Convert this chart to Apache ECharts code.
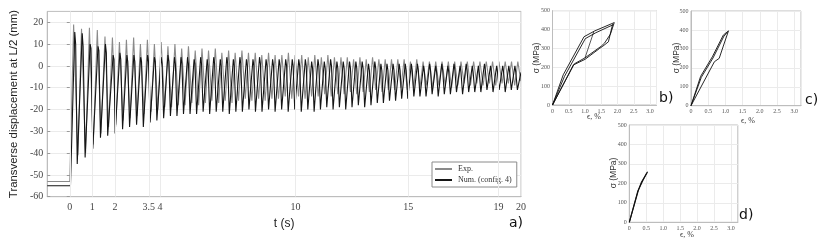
<!DOCTYPE html>
<html><head><meta charset="utf-8">
<script src="https://cdn.jsdelivr.net/npm/echarts@6/dist/echarts.min.js"></script>
<style>html,body{margin:0;padding:0;background:#fff}#c{width:826px;height:246px}</style>
</head><body><div id="c"></div>
<script>
// ---- main plot (a): tick labels ----
const tTicks = [0, 1, 2, 3.5, 4, 10, 15, 19, 20];
const yTicks = [-60, -50, -40, -30, -20, -10, 0, 10, 20];

// ---- Exp. series (gray): initial rest, then peaks / troughs ----
const expRestT = [-1, 0.0];
const expRestY = [-53, -53];
const expPeakT = [0.17,0.52,0.87,1.22,1.56,1.89,2.20,2.51,2.83,3.13,
  3.44,3.75,4.05,4.35,4.66,4.96,5.26,5.56,5.86,6.15,
  6.45,6.74,7.04,7.33,7.63,7.92,8.22,8.51,8.81,9.10,
  9.40,9.69,9.99,10.28,10.57,10.86,11.15,11.44,11.73,12.02,
  12.30,12.58,12.86,13.14,13.42,13.70,13.98,14.26,14.54,14.82,
  15.10,15.38,15.66,15.94,16.22,16.50,16.78,17.06,17.34,17.62,
  17.90,18.18,18.46,18.74,19.02,19.30,19.58,19.86];
const expPeakY = [19,17,17.5,16.5,13.5,13,11,12,13,10,
  12,10,11,9,10,8,9,7,8,7,
  8,6,7,6,7,6,6,5,6,5,
  5,6,5,5,4,5,4,5,4,4,
  4,3,4,3,4,3,3,3,3,3,
  2,3,2,2,2,2,2,2,2,2,
  2,2,2,2,2,2,2,2];
const expTroughT = [0.36,0.70,1.04,1.38,1.72,2.04,2.36,2.67,2.98,3.29,
  3.60,3.90,4.21,4.51,4.81,5.11,5.41,5.71,6.01,6.30,
  6.60,6.89,7.19,7.48,7.78,8.07,8.37,8.66,8.96,9.25,
  9.55,9.84,10.14,10.43,10.72,11.01,11.30,11.59,11.88,12.16,
  12.44,12.72,13.00,13.28,13.56,13.84,14.12,14.40,14.68,14.96,
  15.24,15.52,15.80,16.08,16.36,16.64,16.92,17.20,17.48,17.76,
  18.04,18.32,18.60,18.88,19.16,19.44,19.72,19.99];
const expTroughY = [-41,-40,-36,-31,-28,-27,-25,-24,-23,-22,
  -21,-20,-19,-19,-18,-18,-17,-18,-17,-16,
  -17,-16,-17,-16,-15,-16,-15,-16,-15,-15,
  -14,-15,-14,-15,-14,-14,-13,-14,-13,-13,
  -12,-13,-12,-12,-11,-12,-11,-11,-10,-11,
  -10,-10,-9,-10,-9,-9,-10,-9,-8,-9,
  -8,-9,-8,-9,-8,-8,-9,-7];

// ---- Num. (config. 4) series (black): peak, shoulder (notch), trough ----
const numRestT = [-1, 0.03];
const numRestY = [-55, -55];
const numPeakT = [0.22,0.55,0.90,1.25,1.58,1.92,2.22,2.53,2.84,3.14,
  3.45,3.75,4.05,4.35,4.64,4.93,5.22,5.51,5.80,6.09,
  6.38,6.67,6.96,7.25,7.54,7.83,8.12,8.41,8.70,8.99,
  9.28,9.57,9.86,10.15,10.44,10.72,11.00,11.28,11.56,11.84,
  12.12,12.40,12.68,12.96,13.24,13.52,13.79,14.06,14.33,14.60,
  14.87,15.14,15.41,15.68,15.95,16.22,16.49,16.76,17.03,17.30,
  17.57,17.84,18.11,18.38,18.65,18.92,19.19,19.46,19.73];
const numPeakY = [15.5,15,10,9,10,5,6,5,5,4,
  5,4,4,5,4,4,4,3,4,3,
  4,3,4,3,4,3,3,4,3,3,
  3,3,3,3,3,2,3,2,3,2,
  2,2,2,2,1,2,1,1,1,1,
  1,1,1,0,1,0,1,0,1,0,
  1,0,0,1,0,0,0,0,0];
const numShoulderT = [0.26,0.59,0.94,1.29,1.62,1.96,2.26,2.57,2.88,3.18,
  3.49,3.79,4.09,4.39,4.68,4.97,5.26,5.55,5.84,6.13,
  6.42,6.71,7.00,7.29,7.58,7.87,8.16,8.45,8.74,9.03,
  9.32,9.61,9.90,10.19,10.48,10.76,11.04,11.32,11.60,11.88,
  12.16,12.44,12.72,13.00,13.28,13.56,13.83,14.10,14.37,14.64,
  14.91,15.18,15.45,15.72,15.99,16.26,16.53,16.80,17.07,17.34,
  17.61,17.88,18.15,18.42,18.69,18.96,19.23,19.50,19.77];
const numShoulderY = [10,9,8,7,6,3,3,2,2,2,
  2,2,1,2,1,1,1,1,1,0,
  1,0,1,0,1,0,0,1,0,0,
  0,0,0,0,0,-1,0,-1,0,-1,
  -1,-1,-1,-1,-2,-1,-2,-2,-2,-2,
  -2,-2,-2,-3,-2,-3,-2,-3,-2,-3,
  -2,-3,-3,-2,-3,-3,-3,-3,-3];
const numTroughT = [0.33,0.68,1.02,1.36,1.68,2.01,2.34,2.65,2.96,3.26,
  3.56,3.86,4.16,4.46,4.75,5.04,5.33,5.62,5.91,6.20,
  6.49,6.78,7.07,7.36,7.65,7.94,8.23,8.52,8.81,9.10,
  9.39,9.68,9.97,10.26,10.55,10.83,11.11,11.39,11.67,11.95,
  12.23,12.51,12.79,13.07,13.35,13.63,13.90,14.17,14.44,14.71,
  14.98,15.25,15.52,15.79,16.06,16.33,16.60,16.87,17.14,17.41,
  17.68,17.95,18.22,18.49,18.76,19.03,19.30,19.57,19.84];
const numTroughY = [-45,-42,-38,-33,-32,-31,-29,-28,-27,-28,
  -26,-25,-24,-23,-23,-22,-22,-22,-21,-22,
  -21,-21,-22,-21,-21,-20,-21,-21,-20,-21,
  -20,-21,-20,-21,-20,-21,-20,-19,-20,-19,
  -20,-19,-18,-19,-18,-17,-17,-16,-16,-15,
  -15,-14,-14,-14,-13,-14,-13,-13,-12,-13,
  -12,-12,-12,-11,-12,-11,-12,-11,-11];
const numEndT = [20.0];
const numEndY = [-3];

// ---- stress-strain panels: tick labels ----
const epsTicks = [0, 0.5, 1.0, 1.5, 2.0, 2.5, 3.0];
const sigTicks = [0, 100, 200, 300, 400, 500];

// panel b) strokes (strain %, stress MPa)
const bUpperAEps = [0, 0.33, 0.97, 1.30, 1.90];
const bUpperASig = [0, 160, 362, 393, 437];
const bUpperBEps = [0, 0.37, 1.01, 1.33, 1.87];
const bUpperBSig = [0, 152, 352, 383, 426];
const bLowerAEps = [1.90, 1.78, 1.60, 1.50, 1.00, 0.67, 0];
const bLowerASig = [437, 375, 328, 312, 250, 218, 0];
const bLowerBEps = [1.85, 1.72, 1.55, 1.45, 1.00, 0.64, 0];
const bLowerBSig = [428, 335, 312, 300, 242, 212, 0];
const bInnerEps = [1.00, 1.27];
const bInnerSig = [250, 388];

// panel c)
const cUpperEps = [0, 0.28, 0.62, 0.94, 1.09];
const cUpperSig = [0, 155, 258, 373, 395];
const cUpper2Eps = [0, 0.30, 0.64, 0.96, 1.06];
const cUpper2Sig = [0, 150, 252, 368, 388];
const cLowerEps = [1.09, 0.94, 0.82, 0.68, 0];
const cLowerSig = [395, 315, 250, 232, 0];

// panel d)
const dAEps = [0, 0.27, 0.36, 0.54];
const dASig = [0, 166, 207, 260];
const dBEps = [0, 0.25, 0.40, 0.52];
const dBSig = [0, 160, 215, 255];

function zip(xs, ys) { return xs.map((x, i) => [x, ys[i]]); }
function wave(restT, restY, cols, endT, endY) {
  const out = zip(restT, restY);
  const n = cols[0][0].length;
  for (let i = 0; i < n; i++) {
    cols.forEach(([T, Y]) => { if (i < T.length) out.push([T[i], Y[i]]); });
  }
  if (endT) zip(endT, endY).forEach(p => out.push(p));
  return out;
}

const serif = 'Liberation Serif';
const sans = 'Liberation Sans';
const frame = '#bdbdbd';
const gridC = '#ebebeb';
const tickC = '#9a9a9a';

const grids = [
  { left: 38, top: 11.4, width: 483, height: 185.3 },
  { left: 552.5, top: 10.7, width: 104, height: 94.3 },
  { left: 691, top: 11, width: 110, height: 94.7 },
  { left: 629.3, top: 125, width: 108.5, height: 97.3 }
].map(g => Object.assign({ show: true, borderColor: frame, borderWidth: 1, backgroundColor: '#fff' }, g));

function subX(gi) {
  return {
    gridIndex: gi, type: 'value', min: 0, max: 3.2, interval: 0.5,
    axisLine: { show: true, onZero: false, lineStyle: { color: frame } },
    axisTick: { show: false },
    axisLabel: { customValues: epsTicks, fontSize: 6, fontFamily: serif, color: '#555', margin: 3,
      formatter: v => v === 0 ? '0' : v.toFixed(1) },
    splitLine: { show: true, lineStyle: { color: gridC, width: 1 } }
  };
}
function subY(gi) {
  return {
    gridIndex: gi, type: 'value', min: 0, max: 500, interval: 100,
    axisLine: { show: true, onZero: false, lineStyle: { color: frame } },
    axisTick: { show: false },
    axisLabel: { customValues: sigTicks, fontSize: 6, fontFamily: serif, color: '#555', margin: 2.5 },
    splitLine: { show: true, lineStyle: { color: gridC, width: 1 } }
  };
}
function stroke(gi, xs, ys, w) {
  return { type: 'line', xAxisIndex: gi, yAxisIndex: gi, data: zip(xs, ys), symbol: 'none',
    silent: true, lineStyle: { color: '#111', width: w || 0.9 }, animation: false, z: 3 };
}

const option = {
  animation: false,
  grid: grids,
  legend: {
    data: ['Exp.', 'Num. (config. 4)'],
    orient: 'vertical', left: 432, top: 162,
    backgroundColor: '#fff', borderColor: '#8a8a8a', borderWidth: 1,
    padding: [3, 5, 3, 3], itemGap: 3, itemWidth: 17, itemHeight: 2, icon: 'rect',
    textStyle: { fontFamily: serif, fontSize: 8, color: '#333', padding: [0, 0, 0, 1] }
  },
  xAxis: [
    {
      gridIndex: 0, type: 'value', min: -1, max: 20,
      axisLine: { show: true, onZero: false, lineStyle: { color: frame } },
      axisTick: { show: true, inside: true, length: 3, customValues: tTicks, lineStyle: { color: tickC } },
      axisLabel: { customValues: tTicks, fontSize: 10, fontFamily: serif, color: '#444', margin: 6 },
      splitLine: { show: false },
      name: 't (s)', nameLocation: 'middle', nameGap: 14,
      nameTextStyle: { fontFamily: sans, fontSize: 12, color: '#222' }
    },
    subX(1), subX(2), subX(3),
    {
      gridIndex: 0, type: 'value', min: -1, max: 20, position: 'top',
      axisLine: { show: false },
      axisTick: { show: true, inside: true, length: 3, customValues: tTicks, lineStyle: { color: tickC } },
      axisLabel: { show: false }, splitLine: { show: false }
    }
  ],
  yAxis: [
    {
      gridIndex: 0, type: 'value', min: -60, max: 25, interval: 10,
      axisLine: { show: true, onZero: false, lineStyle: { color: frame } },
      axisTick: { show: true, inside: true, length: 3, customValues: yTicks, lineStyle: { color: tickC } },
      axisLabel: { customValues: yTicks, fontSize: 10, fontFamily: serif, color: '#444', margin: 4 },
      splitLine: { show: true, lineStyle: { color: gridC, width: 1 } },
      name: 'Transverse displacement at L/2 (mm)', nameLocation: 'middle', nameGap: 19,
      nameTextStyle: { fontFamily: sans, fontSize: 11.4, color: '#222' }
    },
    subY(1), subY(2), subY(3),
    {
      gridIndex: 0, type: 'value', min: -60, max: 25, interval: 10, position: 'right',
      axisLine: { show: false },
      axisTick: { show: true, inside: true, length: 3, customValues: yTicks, lineStyle: { color: tickC } },
      axisLabel: { show: false }, splitLine: { show: false }
    }
  ],
  graphic: [
    { type: 'text', left: 509, top: 216, style: { text: 'a)', font: '14px "DejaVu Sans"', fill: '#111' } },
    { type: 'text', left: 659, top: 91, style: { text: 'b)', font: '14px "DejaVu Sans"', fill: '#111' } },
    { type: 'text', left: 805, top: 93, style: { text: 'c)', font: '14px "DejaVu Sans"', fill: '#111' } },
    { type: 'text', left: 739, top: 208, style: { text: 'd)', font: '14px "DejaVu Sans"', fill: '#111' } },
    { type: 'text', left: 587, top: 113, style: { text: 'ϵ, %', font: '8px "Liberation Serif"', fill: '#333' } },
    { type: 'text', left: 741, top: 117, style: { text: 'ϵ, %', font: '8px "Liberation Serif"', fill: '#333' } },
    { type: 'text', left: 680, top: 231, style: { text: 'ϵ, %', font: '8px "Liberation Serif"', fill: '#333' } },
    { type: 'text', x: 536.5, y: 58, rotation: Math.PI / 2,
      style: { text: 'σ (MPa)', font: '8.5px "Liberation Sans"', fill: '#333', align: 'center', verticalAlign: 'middle' } },
    { type: 'text', x: 677, y: 58, rotation: Math.PI / 2,
      style: { text: 'σ (MPa)', font: '8.5px "Liberation Sans"', fill: '#333', align: 'center', verticalAlign: 'middle' } },
    { type: 'text', x: 614, y: 173, rotation: Math.PI / 2,
      style: { text: 'σ (MPa)', font: '8.5px "Liberation Sans"', fill: '#333', align: 'center', verticalAlign: 'middle' } }
  ],
  series: [
    {
      type: 'line', xAxisIndex: 0, yAxisIndex: 0, data: [], silent: true, z: 1,
      markLine: { symbol: 'none', silent: true, label: { show: false }, animation: false,
        lineStyle: { color: gridC, type: 'solid', width: 1 },
        data: tTicks.map(v => ({ xAxis: v })) }
    },
    {
      name: 'Exp.', type: 'line', xAxisIndex: 0, yAxisIndex: 0, symbol: 'none', silent: true,
      data: wave(expRestT, expRestY, [[expPeakT, expPeakY], [expTroughT, expTroughY]]),
      lineStyle: { color: '#8a8a8a', width: 1.1 }, itemStyle: { color: '#8a8a8a' }, z: 3
    },
    {
      name: 'Num. (config. 4)', type: 'line', xAxisIndex: 0, yAxisIndex: 0, symbol: 'none', silent: true,
      data: wave(numRestT, numRestY,
        [[numPeakT, numPeakY], [numShoulderT, numShoulderY], [numTroughT, numTroughY]], numEndT, numEndY),
      lineStyle: { color: '#151515', width: 1.1 }, itemStyle: { color: '#151515' }, z: 4
    },
    stroke(1, bUpperAEps, bUpperASig), stroke(1, bUpperBEps, bUpperBSig),
    stroke(1, bLowerAEps, bLowerASig), stroke(1, bLowerBEps, bLowerBSig),
    stroke(1, bInnerEps, bInnerSig, 0.7),
    stroke(2, cUpperEps, cUpperSig), stroke(2, cUpper2Eps, cUpper2Sig), stroke(2, cLowerEps, cLowerSig),
    stroke(3, dAEps, dASig, 1.1), stroke(3, dBEps, dBSig, 1.1)
  ]
};
const chart = echarts.init(document.getElementById('c'));
chart.setOption(option);
</script>
</body></html>
